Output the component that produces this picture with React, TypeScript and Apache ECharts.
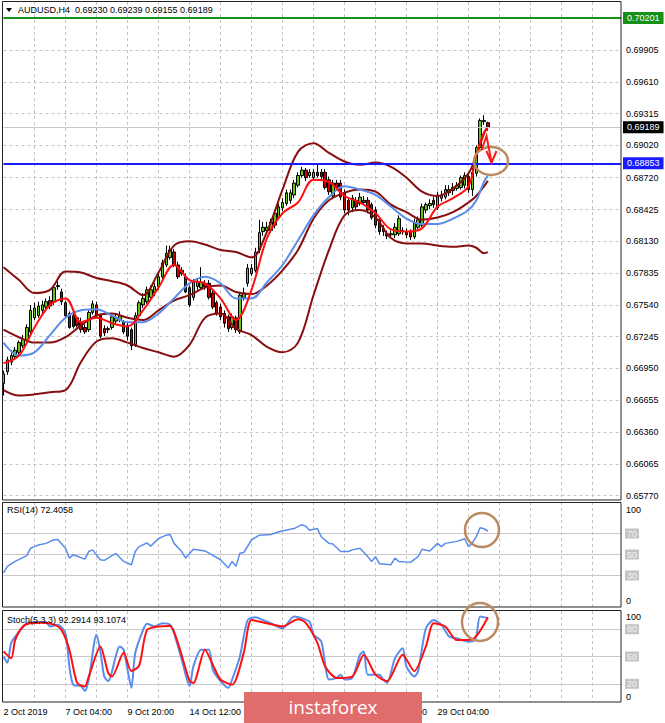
import React, { useEffect, useRef } from "react";
import * as echarts from "echarts";

// ---------- DATA ----------
const candleOpen = [
  0.6681, 0.6692, 0.6701, 0.6706, 0.671, 0.6716, 0.6721, 0.6729, 0.6742, 0.6744,
  0.6749, 0.6752, 0.6758, 0.6757, 0.6771, 0.6766, 0.6756, 0.6746, 0.6744, 0.6742,
  0.6738, 0.6733, 0.6731, 0.6747, 0.6754, 0.6744, 0.6732, 0.6731, 0.6733, 0.6739,
  0.674, 0.6738, 0.6735, 0.6731, 0.6717, 0.6744, 0.6754, 0.6757, 0.6761, 0.6765,
  0.6771, 0.678, 0.6791, 0.6798, 0.6803, 0.6791, 0.6786, 0.678, 0.677, 0.6761,
  0.6771, 0.677, 0.6774, 0.6774, 0.6765, 0.6756, 0.6752, 0.6746, 0.6743, 0.6733,
  0.6742, 0.6729, 0.6761, 0.6774, 0.6783, 0.6786, 0.6805, 0.6822, 0.6823, 0.6823,
  0.6828, 0.6835, 0.6844, 0.6848, 0.6851, 0.6856, 0.6865, 0.6874, 0.6879, 0.6874,
  0.6872, 0.6877, 0.6877, 0.6877, 0.687, 0.6855, 0.6867, 0.6867, 0.6858, 0.6851,
  0.6844, 0.6851, 0.6848, 0.6851, 0.6851, 0.6847, 0.6842, 0.6833, 0.6825, 0.682,
  0.6819, 0.6819, 0.682, 0.6823, 0.6822, 0.6822, 0.6817, 0.6826, 0.6828, 0.6842,
  0.6846, 0.6851, 0.6844, 0.6853, 0.6854, 0.6858, 0.686, 0.6862, 0.6863, 0.6865,
  0.6873, 0.6861, 0.6876, 0.69, 0.6924, 0.6923,
];
const candleClose = [
  0.669, 0.6703, 0.6707, 0.6712, 0.6719, 0.6722, 0.6733, 0.6749, 0.6751, 0.6753,
  0.6754, 0.6757, 0.6753, 0.677, 0.6772, 0.6757, 0.6744, 0.6733, 0.6734, 0.6735,
  0.6731, 0.6729, 0.6747, 0.6755, 0.6744, 0.6725, 0.6728, 0.6732, 0.6743, 0.6742,
  0.6744, 0.6729, 0.6725, 0.6716, 0.6744, 0.6756, 0.676, 0.6768, 0.6768, 0.6771,
  0.678, 0.6793, 0.6802, 0.6805, 0.6791, 0.678, 0.6783, 0.6766, 0.6754, 0.6775,
  0.6775, 0.6775, 0.6771, 0.6761, 0.6752, 0.6746, 0.6743, 0.6737, 0.6732, 0.6743,
  0.6731, 0.6763, 0.6765, 0.6788, 0.6788, 0.6803, 0.6821, 0.6826, 0.6826, 0.6831,
  0.6839, 0.6845, 0.6849, 0.6858, 0.6858, 0.6867, 0.6874, 0.6879, 0.6872, 0.6877,
  0.6877, 0.6874, 0.6873, 0.6863, 0.6859, 0.6867, 0.6863, 0.6854, 0.6842, 0.6842,
  0.6853, 0.6845, 0.6854, 0.6849, 0.6842, 0.6835, 0.6828, 0.6822, 0.6822, 0.6818,
  0.682, 0.6826, 0.6834, 0.6822, 0.6819, 0.6817, 0.683, 0.6833, 0.6845, 0.6847,
  0.6848, 0.6847, 0.6856, 0.6856, 0.6861, 0.6861, 0.6863, 0.6865, 0.6872, 0.6874,
  0.6861, 0.6877, 0.69, 0.6925, 0.6925, 0.69189,
];
const candleHigh = [
  0.6693, 0.6706, 0.6712, 0.6715, 0.6721, 0.6726, 0.6736, 0.6754, 0.6756, 0.6757,
  0.6758, 0.676, 0.6762, 0.6772, 0.6776, 0.6769, 0.6758, 0.6748, 0.6746, 0.6744,
  0.6742, 0.6736, 0.6749, 0.6758, 0.6757, 0.6746, 0.6735, 0.6734, 0.6745, 0.6745,
  0.6748, 0.674, 0.6738, 0.6733, 0.6747, 0.6758, 0.6765, 0.6771, 0.6772, 0.6774,
  0.6783, 0.6796, 0.6809, 0.6809, 0.6806, 0.6794, 0.6789, 0.6783, 0.6772, 0.6778,
  0.6778, 0.6789, 0.6777, 0.6777, 0.6768, 0.6758, 0.6755, 0.6749, 0.6745, 0.6746,
  0.6744, 0.6766, 0.677, 0.6792, 0.6792, 0.6807, 0.6833, 0.6831, 0.6831, 0.6834,
  0.6842, 0.6848, 0.6853, 0.6861, 0.6861, 0.687, 0.6877, 0.6882, 0.6881, 0.688,
  0.688, 0.6884, 0.688, 0.688, 0.6873, 0.687, 0.687, 0.687, 0.6861, 0.6854,
  0.6856, 0.6854, 0.6858, 0.6855, 0.6854, 0.6849, 0.6845, 0.6835, 0.6828, 0.6823,
  0.6823, 0.683, 0.6837, 0.6826, 0.6825, 0.6824, 0.6834, 0.6836, 0.6848, 0.6849,
  0.6852, 0.6854, 0.6859, 0.686, 0.6865, 0.6865, 0.6867, 0.6868, 0.6874, 0.6877,
  0.6876, 0.6881, 0.6902, 0.6927, 0.693, 0.69239,
];
const candleLow = [
  0.667, 0.6689, 0.6698, 0.6703, 0.6707, 0.6714, 0.6719, 0.6725, 0.674, 0.6742,
  0.6745, 0.6748, 0.675, 0.6754, 0.6768, 0.6754, 0.6743, 0.6732, 0.6732, 0.6733,
  0.6728, 0.6727, 0.6729, 0.6745, 0.6742, 0.6723, 0.6725, 0.6728, 0.6731, 0.6736,
  0.6738, 0.6727, 0.6721, 0.6712, 0.6715, 0.6742, 0.6751, 0.6755, 0.6759, 0.6762,
  0.6768, 0.6777, 0.6789, 0.6796, 0.6789, 0.6778, 0.6781, 0.6765, 0.6752, 0.6758,
  0.6768, 0.6768, 0.6768, 0.6759, 0.675, 0.6744, 0.674, 0.6733, 0.6729, 0.6731,
  0.6728, 0.6727, 0.6758, 0.6771, 0.6781, 0.6784, 0.6802, 0.6818, 0.6821, 0.6821,
  0.6825, 0.6834, 0.6841, 0.6846, 0.6848, 0.6853, 0.6863, 0.6872, 0.6869, 0.6872,
  0.687, 0.6872, 0.687, 0.6861, 0.6856, 0.6852, 0.6861, 0.6851, 0.6839, 0.6837,
  0.684, 0.6842, 0.6846, 0.6847, 0.6839, 0.6833, 0.6825, 0.6819, 0.6818, 0.6815,
  0.6816, 0.6816, 0.6818, 0.6819, 0.6816, 0.6814, 0.6815, 0.6824, 0.6826, 0.6839,
  0.6843, 0.6844, 0.6842, 0.685, 0.6852, 0.6855, 0.6856, 0.686, 0.6861, 0.6862,
  0.6858, 0.6855, 0.6873, 0.6898, 0.6921, 0.69155,
];

// indicator lines, read every 4 bars
const lineIdx = [0, 4, 8, 12, 16, 20, 24, 28, 32, 36, 40, 44, 48, 52, 56, 60, 64, 68, 72, 76, 80, 84, 88, 92, 96, 100, 104, 108, 112, 116, 120, 122, 124, 125];
const bbUpper = [0.6789, 0.6777, 0.6765, 0.6768, 0.6785, 0.6784, 0.6779, 0.6776, 0.6772, 0.6763, 0.6784, 0.6809, 0.6813, 0.681, 0.6805, 0.6803, 0.6798, 0.6822, 0.6861, 0.6896, 0.6904, 0.6895, 0.6887, 0.6884, 0.6886, 0.6882, 0.6872, 0.6859, 0.6855, 0.6862, 0.6876, 0.6893, 0.6913, 0.692];
const bbMiddle = [0.6731, 0.6724, 0.6719, 0.6719, 0.6724, 0.6735, 0.6744, 0.6746, 0.6742, 0.674, 0.6749, 0.6758, 0.6763, 0.677, 0.6772, 0.6766, 0.6764, 0.6772, 0.6786, 0.6805, 0.6834, 0.6851, 0.6858, 0.6861, 0.6859, 0.6847, 0.684, 0.6833, 0.6835, 0.684, 0.6849, 0.6855, 0.6864, 0.6869];
const bbLower = [0.6675, 0.667, 0.6671, 0.6673, 0.6675, 0.6701, 0.672, 0.6723, 0.6719, 0.6714, 0.671, 0.6706, 0.6717, 0.6742, 0.6746, 0.6732, 0.6726, 0.6715, 0.671, 0.6719, 0.6763, 0.6805, 0.6837, 0.6842, 0.6835, 0.6816, 0.6811, 0.6811, 0.6809, 0.6808, 0.6809, 0.6807, 0.6802, 0.6803];
const maFast = [0.67, 0.6707, 0.6733, 0.6754, 0.676, 0.6738, 0.6742, 0.6737, 0.6734, 0.6749, 0.677, 0.6791, 0.6777, 0.6774, 0.676, 0.674, 0.6768, 0.6816, 0.6839, 0.6849, 0.687, 0.6868, 0.6855, 0.6849, 0.6839, 0.6824, 0.6822, 0.6825, 0.6845, 0.6853, 0.6864, 0.6893, 0.6914, 0.6918];
const maSlow = [0.6719, 0.6707, 0.671, 0.6726, 0.6742, 0.6749, 0.675, 0.6744, 0.6738, 0.6738, 0.6746, 0.676, 0.6774, 0.678, 0.6774, 0.676, 0.676, 0.6775, 0.6791, 0.6814, 0.6837, 0.6854, 0.6864, 0.6861, 0.6856, 0.6845, 0.6834, 0.6829, 0.6829, 0.6834, 0.6842, 0.6851, 0.6868, 0.6874];

const rsiIdx = [0, 1, 3, 5, 6, 7, 8, 9, 11, 13, 14, 16, 17, 18, 21, 22, 23, 25, 26, 29, 31, 33, 34, 35, 37, 38, 40, 42, 43, 44, 46, 47, 49, 52, 53, 56, 58, 59, 60, 61, 62, 64, 66, 69, 71, 75, 77, 78, 79, 81, 82, 84, 85, 87, 89, 90, 92, 94, 95, 96, 97, 100, 101, 102, 105, 107, 108, 110, 112, 113, 114, 117, 119, 120, 121, 122, 123, 124, 125];
const rsiVal = [32.5, 38.7, 43.4, 47, 49, 56, 57.5, 59, 60.6, 64, 64.4, 56, 46.6, 49.7, 45.6, 52.8, 54.4, 45, 44.4, 51, 43.4, 40.3, 52.8, 57.5, 61, 58, 65.3, 68.4, 69, 60.6, 52.8, 46.6, 55, 53.4, 51.3, 45, 37.2, 43.4, 38.7, 51.3, 51.9, 63.8, 68.4, 69, 71.6, 74.7, 78.4, 77, 73, 74.7, 66.9, 60.6, 60, 52.8, 52.8, 54.4, 56, 48, 43.4, 48, 41.3, 40.3, 46.6, 43.4, 42.5, 48, 55, 53.4, 60.6, 57.5, 60.6, 62.5, 65, 57.5, 61, 67, 75.5, 74.5, 72.4];

const stochKIdx = [0, 1, 2, 4, 6, 8, 11, 12, 14, 16, 17, 18, 20, 21, 22, 24, 25, 26, 27, 30, 31, 32, 33, 34, 36, 37, 39, 41, 43, 44, 46, 48, 49, 51, 53, 54, 56, 58, 59, 61, 63, 65, 67, 69, 72, 75, 77, 79, 80, 82, 84, 86, 87, 88, 90, 92, 93, 94, 97, 98, 99, 101, 103, 104, 106, 107, 109, 111, 113, 115, 117, 120, 121, 122, 123, 125];
const stochKVal = [50, 43, 65, 77, 86.5, 88, 88, 83, 85, 75.6, 39, 19, 17.5, 12, 24.7, 74, 55.6, 28, 23, 61, 57.5, 35.6, 15.6, 53.8, 79, 86, 83, 86.5, 85, 75.6, 46.5, 17.5, 39, 57.5, 57.5, 35.6, 23, 15.6, 24.7, 50, 90, 93, 90, 86.5, 81, 94, 92, 88, 74, 66.5, 24.7, 26.5, 30, 24.7, 26.5, 52, 55.6, 30, 30, 24.7, 21, 48, 59, 39, 28, 34, 81, 90, 85, 72, 70, 66.5, 66.5, 72, 94, 92.3];
const stochDIdx = [0, 2, 3, 5, 7, 10, 13, 15, 17, 19, 21, 22, 25, 27, 28, 31, 33, 35, 37, 40, 43, 45, 48, 49, 52, 54, 56, 59, 62, 64, 68, 72, 76, 78, 81, 83, 86, 90, 93, 96, 99, 103, 106, 109, 111, 114, 117, 121, 125];
const stochDVal = [55.6, 48, 68, 83, 86.5, 87, 85, 79, 57.5, 21, 17, 28, 61, 32, 28, 54, 34, 40, 79, 83, 83.6, 65, 23, 21, 57.5, 41, 24.7, 19, 54, 90, 86.5, 83, 91, 87, 65, 39, 26.5, 28, 52, 30, 23, 52, 34, 61, 86.5, 83, 68, 69, 93.1];

const priceTicks = [0.6577, 0.66065, 0.6636, 0.66655, 0.6695, 0.67245, 0.6754, 0.67835, 0.6813, 0.68425, 0.6872, 0.6902, 0.69315, 0.6961, 0.69905];
const resistanceLevel = 0.70201;
const supportLevel = 0.68853;
const lastPrice = 0.69189;
// labels at 17 Oct 04:00 and 21 Oct 20:00 are fully hidden by the watermark in the reference
const timeLabelIdx = [0, 16, 32, 48, 96, 112];
const timeLabels = ["2 Oct 2019", "7 Oct 04:00", "9 Oct 20:00", "14 Oct 12:00", "24 Oct 12:00", "29 Oct 04:00"];
const rsiLevels = [70, 50, 30];
const stochLevels = [80, 50, 20];
const titleText = "AUDUSD,H4  0.69230 0.69239 0.69155 0.69189";
const rsiTitle = "RSI(14) 72.4058";
const stochTitle = "Stoch(5,3,3) 92.2914 93.1074";

// ---------- STYLE ----------
const FONT = "Liberation Sans, Arial, sans-serif";
const GRID_LEFT = 3.5;
const GRID_W = 617.5;
const X_MAX = 159.35;
const BULL = "#66c412";
const BEAR = "#c80000";
const BB_COLOR = "#870f0f";
const FAST_COLOR = "#ff1010";
const SLOW_COLOR = "#5a8ceb";
const GRID_COLOR = "#c4c4c4";
const CIRCLE_COLOR = "#bb8a60";

function pairs(idx: number[], vals: number[]) {
  return idx.map((i, k) => [i, vals[k]]);
}

function buildOption() {
  const candles = candleOpen.map((o, i) => [i, o, candleClose[i], candleLow[i], candleHigh[i]]);
  const xAxisBase = (gridIndex: number, withLabels: boolean) => ({
    type: "value",
    gridIndex,
    min: 0,
    max: X_MAX,
    interval: 8,
    axisLine: { show: false },
    axisTick: { show: false },
    axisLabel: withLabels
      ? {
          show: true,
          align: "left",
          margin: 5,
          fontSize: 9,
          fontFamily: FONT,
          color: "#000",
          formatter: (v: number) => {
            const r = Math.round(v);
            if (Math.abs(v - r) > 1e-6) return "";
            const k = timeLabelIdx.indexOf(r);
            return k >= 0 ? timeLabels[k] : "";
          },
        }
      : { show: false },
    splitLine: {
      show: true,
      showMinLine: false,
      showMaxLine: false,
      lineStyle: { color: GRID_COLOR, type: [3, 3], width: 1 },
    },
  });

  const tickLabel = (text: string) => ({
    show: true,
    position: "end",
    distance: 5,
    formatter: text,
    color: "#000",
    fontSize: 9,
    fontFamily: FONT,
  });

  const specialLine = (v: number, lineColor: string, bg: string, width: number) => ({
    yAxis: v,
    lineStyle: { color: lineColor, type: "solid", width },
    label: {
      show: true,
      position: "end",
      distance: 2,
      formatter: v.toFixed(5),
      color: "#fff",
      backgroundColor: bg,
      padding: [2, 4, 1, 4],
      fontSize: 9,
      fontFamily: FONT,
    },
  });

  const levelMark = (levels: number[]) => ({
    silent: true,
    symbol: ["none", "none"],
    precision: 5,
    z: 1,
    data: levels.map((v) => ({
      yAxis: v,
      lineStyle: { color: "#c8c8c8", type: "solid", width: 1 },
      label: {
        show: true,
        position: "end",
        distance: 4,
        formatter: String(v),
        color: "#f4f4f4",
        backgroundColor: "#c4c4c4",
        padding: [1, 2, 0, 2],
        fontSize: 9,
        fontFamily: FONT,
      },
    })),
  });

  const oscAxis = (gridIndex: number, topPad: number, botPad: number) => ({
    type: "value",
    gridIndex,
    min: 0,
    max: 100,
    interval: 100,
    position: "right",
    axisLine: { show: false },
    axisTick: { show: false },
    splitLine: { show: false },
    axisLabel: {
      show: true,
      margin: 5,
      fontSize: 9,
      fontFamily: FONT,
      color: "#000",
      formatter: (v: number) => (v === 100 ? "{t|100}" : v === 0 ? "{b|0}" : ""),
      rich: {
        t: { padding: [topPad, 0, 0, 0], fontSize: 9, fontFamily: FONT, color: "#000" },
        b: { padding: [0, 0, botPad, 0], fontSize: 9, fontFamily: FONT, color: "#000" },
      },
    },
  });

  const bandLine = (name: string, vals: number[], color: string) => ({
    name,
    type: "line",
    xAxisIndex: 0,
    yAxisIndex: 0,
    data: pairs(lineIdx, vals),
    showSymbol: false,
    smooth: 0.35,
    lineStyle: { color, width: 2 },
    z: 3,
  });

  return {
    animation: false,
    backgroundColor: "#ffffff",
    grid: [
      { left: GRID_LEFT, top: 2, width: GRID_W, height: 498, outerBoundsMode: "none" },
      { left: GRID_LEFT, top: 502, width: GRID_W, height: 105, outerBoundsMode: "none" },
      { left: GRID_LEFT, top: 611, width: GRID_W, height: 91, outerBoundsMode: "none" },
    ],
    xAxis: [xAxisBase(0, false), xAxisBase(1, false), xAxisBase(2, true)],
    yAxis: [
      { type: "value", gridIndex: 0, min: 0.6573, max: 0.7035, show: false },
      oscAxis(1, 16, 12),
      oscAxis(2, 12, 10),
    ],
    series: [
      {
        name: "grid",
        type: "line",
        xAxisIndex: 0,
        yAxisIndex: 0,
        data: [],
        z: 1,
        markLine: {
          silent: true,
          symbol: ["none", "none"],
          precision: 5,
          z: 1,
          data: priceTicks.map((v) => ({
            yAxis: v,
            lineStyle: { color: GRID_COLOR, type: [3, 3], width: 1 },
            label: tickLabel(v.toFixed(5)),
          })),
        },
      },
      {
        name: "AUDUSD",
        type: "candlestick",
        xAxisIndex: 0,
        yAxisIndex: 0,
        data: candles,
        encode: { x: 0, y: [1, 2, 3, 4] },
        barWidth: 3,
        clip: false,
        z: 2,
        itemStyle: {
          color: BULL,
          color0: BEAR,
          borderColor: "#000",
          borderColor0: "#000",
          borderWidth: 1,
        },
        markLine: {
          silent: true,
          symbol: ["none", "none"],
          precision: 5,
          data: [
            specialLine(lastPrice, "#c8c8c8", "#000000", 1),
            specialLine(resistanceLevel, "#169016", "#169016", 2),
            specialLine(supportLevel, "#1a1aff", "#1a1aff", 2),
          ],
        },
      },
      bandLine("BB upper", bbUpper, BB_COLOR),
      bandLine("BB middle", bbMiddle, BB_COLOR),
      bandLine("BB lower", bbLower, BB_COLOR),
      bandLine("MA slow", maSlow, SLOW_COLOR),
      bandLine("MA fast", maFast, FAST_COLOR),
      {
        name: "RSI",
        type: "line",
        xAxisIndex: 1,
        yAxisIndex: 1,
        data: pairs(rsiIdx, rsiVal),
        showSymbol: false,
        lineStyle: { color: SLOW_COLOR, width: 1.5 },
        markLine: levelMark(rsiLevels),
      },
      {
        name: "Stoch main",
        type: "line",
        xAxisIndex: 2,
        yAxisIndex: 2,
        data: pairs(stochKIdx, stochKVal),
        showSymbol: false,
        smooth: 0.25,
        lineStyle: { color: SLOW_COLOR, width: 2 },
        markLine: levelMark(stochLevels),
      },
      {
        name: "Stoch signal",
        type: "line",
        xAxisIndex: 2,
        yAxisIndex: 2,
        data: pairs(stochDIdx, stochDVal),
        showSymbol: false,
        smooth: 0.25,
        lineStyle: { color: FAST_COLOR, width: 2 },
      },
    ],
    graphic: [
      { type: "rect", silent: true, z: 50, shape: { x: 2.5, y: 1.5, width: 618.5, height: 498.5 }, style: { fill: "none", stroke: "#222", lineWidth: 1 } },
      { type: "rect", silent: true, z: 50, shape: { x: 2.5, y: 502.5, width: 618.5, height: 104.5 }, style: { fill: "none", stroke: "#222", lineWidth: 1 } },
      { type: "rect", silent: true, z: 50, shape: { x: 2.5, y: 610.5, width: 618.5, height: 91.5 }, style: { fill: "none", stroke: "#222", lineWidth: 1 } },
      { type: "polygon", silent: true, z: 50, shape: { points: [[6, 8], [12, 8], [9, 12]] }, style: { fill: "#000" } },
      { type: "text", silent: true, z: 50, x: 18, y: 10, style: { text: titleText, fontSize: 9, fontFamily: FONT, fill: "#000", verticalAlign: "middle" } },
      { type: "text", silent: true, z: 50, x: 7, y: 510, style: { text: rsiTitle, fontSize: 9, fontFamily: FONT, fill: "#000", verticalAlign: "middle" } },
      { type: "text", silent: true, z: 50, x: 7, y: 620, style: { text: stochTitle, fontSize: 9, fontFamily: FONT, fill: "#000", verticalAlign: "middle" } },
      // annotations
      { type: "ellipse", silent: true, z: 60, shape: { cx: 491, cy: 161, rx: 17, ry: 14 }, style: { fill: "none", stroke: CIRCLE_COLOR, lineWidth: 2.5 } },
      { type: "ellipse", silent: true, z: 60, shape: { cx: 482, cy: 530, rx: 17, ry: 17 }, style: { fill: "none", stroke: CIRCLE_COLOR, lineWidth: 2.5 } },
      { type: "ellipse", silent: true, z: 60, shape: { cx: 480, cy: 622, rx: 18, ry: 19 }, style: { fill: "none", stroke: CIRCLE_COLOR, lineWidth: 2.5 } },
      { type: "polyline", silent: true, z: 61, shape: { points: [[481.5, 150], [486.5, 136], [491.5, 162]] }, style: { fill: "none", stroke: "#ff1a1a", lineWidth: 2 } },
      { type: "polyline", silent: true, z: 61, shape: { points: [[486.5, 151], [491.5, 163], [496.5, 151]] }, style: { fill: "none", stroke: "#ff1a1a", lineWidth: 2 } },
      // watermark
      { type: "rect", silent: true, z: 100, shape: { x: 244, y: 692, width: 178, height: 31 }, style: { fill: "#e06c6c" } },
      { type: "text", silent: true, z: 101, x: 333, y: 707, style: { text: "instaforex", fontSize: 19, fontFamily: "Open Sans, sans-serif", fill: "#ffffff", align: "center", verticalAlign: "middle" } },
    ],
  };
}

export default function App() {
  const ref = useRef<HTMLDivElement>(null);
  useEffect(() => {
    if (!ref.current) return;
    const chart = echarts.init(ref.current, undefined, { renderer: "svg" });
    chart.setOption(buildOption() as any);
    return () => chart.dispose();
  }, []);
  return (
    <div
      ref={ref}
      style={{ position: "fixed", left: 0, top: 0, width: 665, height: 723, background: "#fff" }}
    />
  );
}
